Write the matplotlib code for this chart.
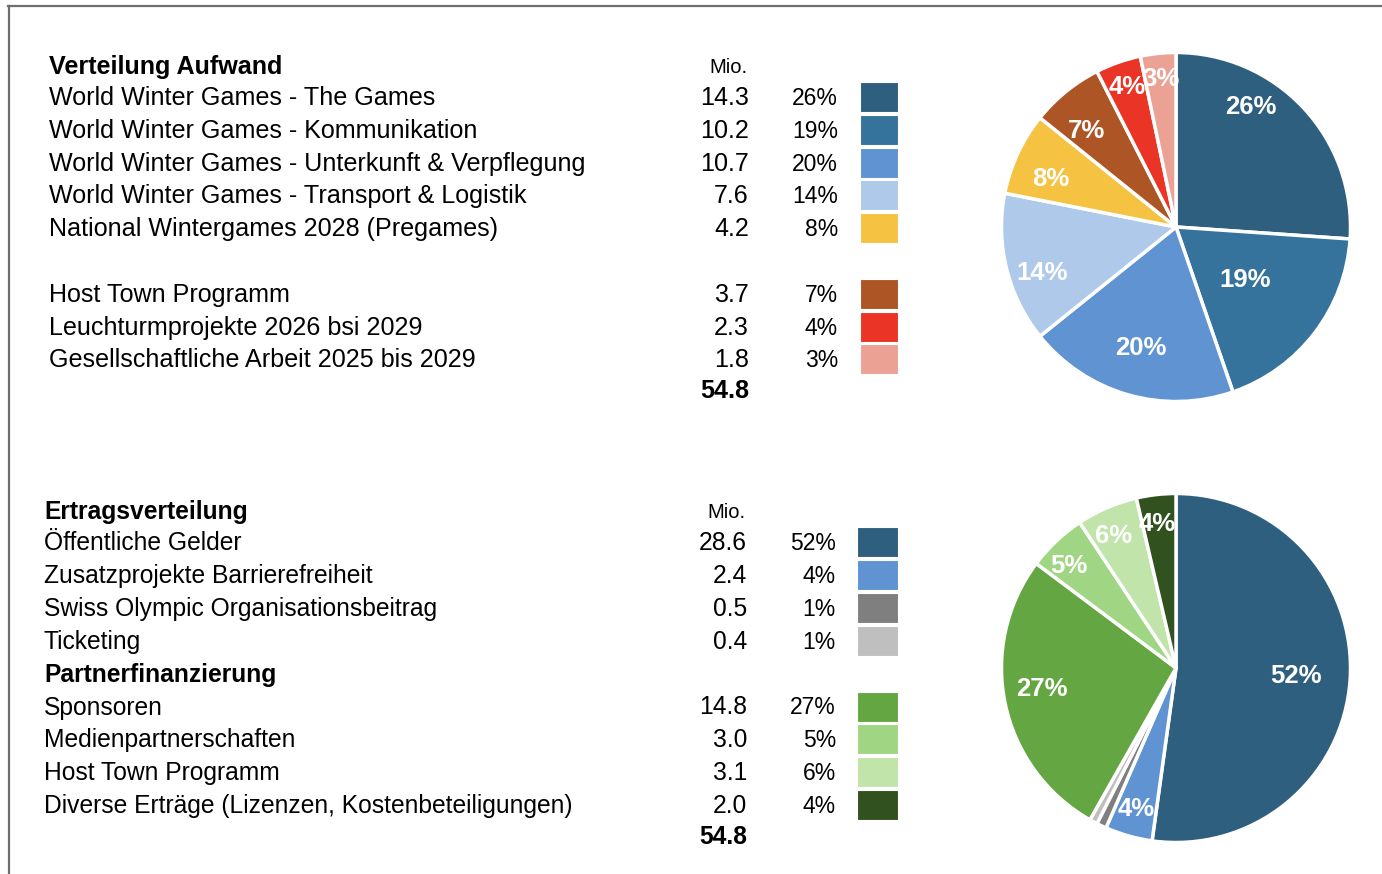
import matplotlib
matplotlib.use("Agg")
import matplotlib.pyplot as plt
from matplotlib.patches import Rectangle
from matplotlib.lines import Line2D
import numpy as np

plt.rcParams['font.family'] = ['Liberation Sans', 'DejaVu Sans']

W, H = 1382, 874

# Verteilung Aufwand
cost_title = "Verteilung Aufwand"
cost_labels = [
    "World Winter Games - The Games",
    "World Winter Games - Kommunikation",
    "World Winter Games - Unterkunft & Verpflegung",
    "World Winter Games - Transport & Logistik",
    "National Wintergames 2028 (Pregames)",
    "Host Town Programm",
    "Leuchturmprojekte 2026 bsi 2029",
    "Gesellschaftliche Arbeit 2025 bis 2029",
]
cost_values = [14.3, 10.2, 10.7, 7.6, 4.2, 3.7, 2.3, 1.8]
cost_colors = ["#2E5F7F", "#35739C", "#6093D2", "#AEC9E9",
               "#F5C242", "#AE5526", "#E93426", "#EBA294"]
cost_rows = [0, 1, 2, 3, 4, 6, 7, 8]

# Ertragsverteilung
income_title = "Ertragsverteilung"
income_labels = [
    "Öffentliche Gelder",
    "Zusatzprojekte Barrierefreiheit",
    "Swiss Olympic Organisationsbeitrag",
    "Ticketing",
    "Sponsoren",
    "Medienpartnerschaften",
    "Host Town Programm",
    "Diverse Erträge (Lizenzen, Kostenbeteiligungen)",
]
income_values = [28.6, 2.4, 0.5, 0.4, 14.8, 3.0, 3.1, 2.0]
income_colors = ["#2E5F7F", "#6093D2", "#7F7F7F", "#BFBFBF",
                 "#64A641", "#A0D683", "#C1E4AA", "#31511E"]
income_rows = [0, 1, 2, 3, 5, 6, 7, 8]
income_subheads = {4: "Partnerfinanzierung"}


def pcts(values):
    total = sum(values)
    return [int(round(v / total * 100)) for v in values]


def draw_table(ax, title, labels, values, colors, rows, x_text, base0,
               step, x_num, x_pct, x_sw, sw_w, fs, subheads=None):
    ax.text(x_text, base0 - 31, title, fontsize=fs, fontweight='bold',
            ha='left', va='baseline')
    ax.text(x_num - 1, base0 - 32, "Mio.", fontsize=14.5, ha='right',
            va='baseline')
    for i, (lab, val, p, col) in enumerate(zip(labels, values, pcts(values), colors)):
        y = base0 + rows[i] * step
        ax.text(x_text, y, lab, fontsize=fs, ha='left', va='baseline')
        ax.text(x_num, y, f"{val:.1f}", fontsize=fs, ha='right', va='baseline')
        ax.text(x_pct, y, f"{p}%", fontsize=16.5, ha='right', va='baseline')
        ax.add_patch(Rectangle((x_sw, y - 8 - 15), sw_w, 30, facecolor=col,
                               edgecolor='white', lw=0.8))
    if subheads:
        for r, s in subheads.items():
            ax.text(x_text, base0 + r * step, s, fontsize=fs,
                    fontweight='bold', ha='left', va='baseline')
    y_tot = base0 + (max(rows) + 1) * step - 2
    ax.text(x_num, y_tot, f"{sum(values):.1f}", fontsize=fs,
            fontweight='bold', ha='right', va='baseline')


def draw_pie(fig, values, colors, cx, cy, r, label_r, label_off):
    pax = fig.add_axes([(cx - r) / W, (H - cy - r) / H, 2 * r / W, 2 * r / H])
    wedges, _ = pax.pie(values, colors=colors, startangle=90,
                        counterclock=False,
                        wedgeprops=dict(edgecolor='white', linewidth=2.5))
    pax.set_xlim(-1.02, 1.02)
    pax.set_ylim(-1.02, 1.02)
    for w, p, lr, off in zip(wedges, pcts(values), label_r, label_off):
        if p < 2:
            continue
        ang = np.deg2rad((w.theta1 + w.theta2) / 2 + off)
        pax.text(lr * np.cos(ang), lr * np.sin(ang), f"{p}%",
                 color='white', fontsize=18.5, fontweight='bold',
                 ha='center', va='center')
    return pax


fig = plt.figure(figsize=(W / 100, H / 100), dpi=100)
ax = fig.add_axes([0, 0, 1, 1])
ax.set_xlim(0, W)
ax.set_ylim(H, 0)
ax.axis('off')

# frame lines at the top and left
fig.add_artist(Line2D([8 / W, 1], [1 - 6 / H, 1 - 6 / H], color='#6E6E6E', lw=1.6))
fig.add_artist(Line2D([9 / W, 9 / W], [0, 1 - 6 / H], color='#6E6E6E', lw=1.6))

draw_table(ax, cost_title, cost_labels, cost_values, cost_colors, cost_rows,
           49, 105, 32.8, 749, 838, 860, 38, 18.1)
draw_table(ax, income_title, income_labels, income_values, income_colors,
           income_rows, 44, 550, 32.9, 747, 836, 857, 41, 17.7, income_subheads)

draw_pie(fig, cost_values, cost_colors, 1176, 227, 178,
         [0.81, 0.5, 0.72, 0.81, 0.77, 0.75, 0.85, 0.85],
         [15, 0, 0, 5, 4, 4, 0, 0])
draw_pie(fig, income_values, income_colors, 1176, 668, 178,
         [0.69, 0.84, 0, 0, 0.78, 0.85, 0.835, 0.83],
         [0, 0, 0, 0, -3, 3, 2, 1])

fig.savefig("out.png", dpi=100)
